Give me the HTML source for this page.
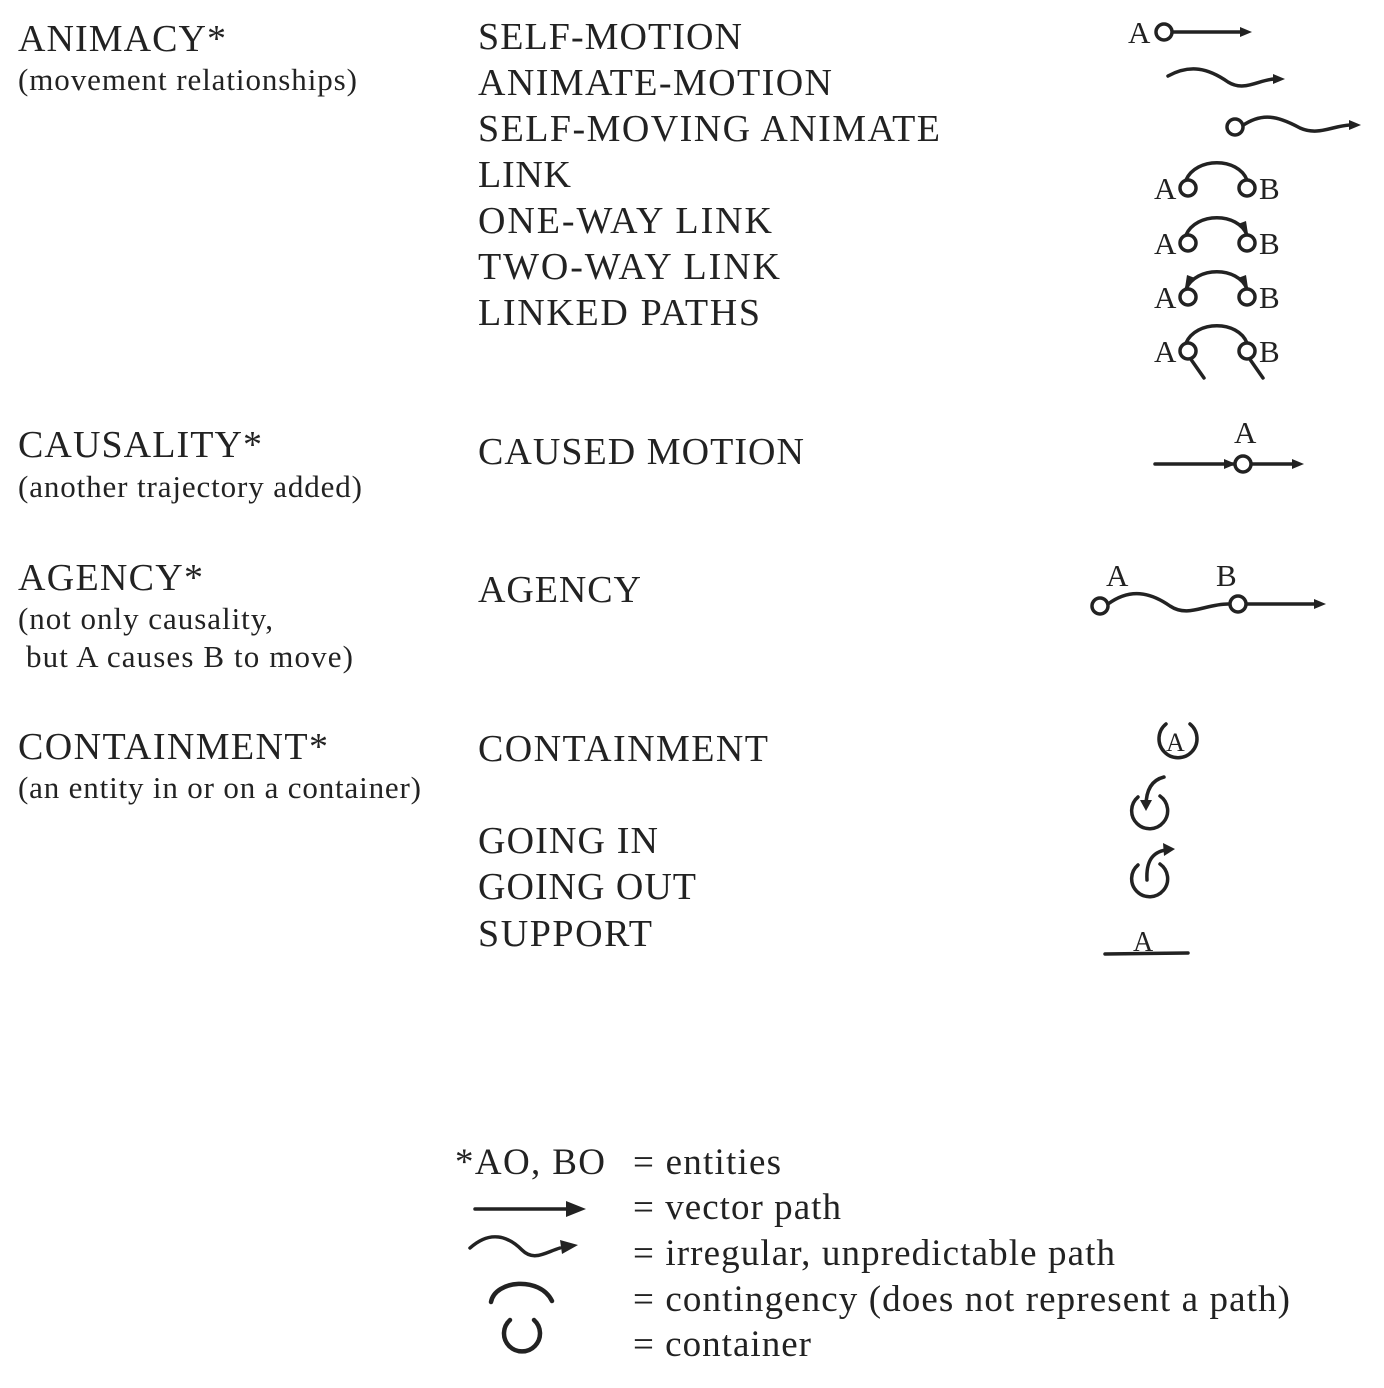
<!DOCTYPE html>
<html><head><meta charset="utf-8"><style>
html,body{margin:0;padding:0;background:#fff}
svg{display:block}
text{font-family:"Liberation Serif",serif;fill:#222}
.h{font-size:38px}.s{font-size:31px}.r{font-size:38px}.l{font-size:37px}.i{font-size:31px}
.p{fill:none;stroke:#222;stroke-width:3.5;stroke-linecap:round}
.c{fill:#fff;stroke:#222;stroke-width:3.5}
.a{fill:#222}
</style></head><body>
<svg width="1384" height="1388" viewBox="0 0 1384 1388">
<g>
<text class="h" x="18" y="51" textLength="208">ANIMACY*</text>
<text class="s" x="18" y="90" textLength="339">(movement relationships)</text>
<text class="h" x="18" y="457" textLength="244">CAUSALITY*</text>
<text class="s" x="18" y="497" textLength="344">(another trajectory added)</text>
<text class="h" x="18" y="590" textLength="185">AGENCY*</text>
<text class="s" x="18" y="629" textLength="255">(not only causality,</text>
<text class="s" x="26" y="667" textLength="327">but A causes B to move)</text>
<text class="h" x="18" y="759" textLength="310">CONTAINMENT*</text>
<text class="s" x="18" y="798" textLength="403">(an entity in or on a container)</text>
</g>
<g>
<text class="r" x="478" y="49" textLength="264">SELF-MOTION</text>
<text class="r" x="478" y="95" textLength="354">ANIMATE-MOTION</text>
<text class="r" x="478" y="141" textLength="462">SELF-MOVING ANIMATE</text>
<text class="r" x="478" y="187" textLength="93">LINK</text>
<text class="r" x="478" y="233" textLength="294">ONE-WAY LINK</text>
<text class="r" x="478" y="279" textLength="302">TWO-WAY LINK</text>
<text class="r" x="478" y="325" textLength="282">LINKED PATHS</text>
<text class="r" x="478" y="464" textLength="326">CAUSED MOTION</text>
<text class="r" x="478" y="602" textLength="163">AGENCY</text>
<text class="r" x="478" y="761" textLength="290">CONTAINMENT</text>
<text class="r" x="478" y="853" textLength="180">GOING IN</text>
<text class="r" x="478" y="899" textLength="218">GOING OUT</text>
<text class="r" x="478" y="946" textLength="174">SUPPORT</text>
</g>
<g>
<g>
<text class="i" x="1128" y="43">A</text>
<line class="p" x1="1172" y1="32" x2="1242" y2="32"/><polygon class="a" points="1252,32 1240,27 1240,37"/>
<circle class="c" cx="1164" cy="32" r="8"/></g>
<g>
<path class="p" d="M1168,76 C1190,64 1208,68 1228,82 C1244,92 1258,80 1274,79"/><polygon class="a" points="1285,79 1273,74 1273,84"/></g>
<g>
<path class="p" d="M1242,126 C1262,112 1278,116 1300,128 C1318,136 1332,126 1350,125"/><polygon class="a" points="1361,125 1349,120 1349,130"/>
<circle class="c" cx="1235" cy="127" r="8"/></g>
<g>
<text class="i" x="1154" y="199">A</text><text class="i" x="1259" y="199">B</text>
<path class="p" d="M1186,180 C1196,157 1238,157 1247,180"/>
<circle class="c" cx="1188" cy="188" r="8"/><circle class="c" cx="1247" cy="188" r="8"/></g>
<g>
<text class="i" x="1154" y="254">A</text><text class="i" x="1259" y="254">B</text>
<path class="p" d="M1186,235 C1196,212 1238,212 1247,235"/><polygon class="a" points="1248,234 1238,224 1246,221"/>
<circle class="c" cx="1188" cy="243" r="8"/><circle class="c" cx="1247" cy="243" r="8"/></g>
<g>
<text class="i" x="1154" y="308">A</text><text class="i" x="1259" y="308">B</text>
<path class="p" d="M1186,289 C1196,266 1238,266 1247,289"/><polygon class="a" points="1248,288 1238,278 1246,275"/><polygon class="a" points="1185,288 1195,278 1187,275"/>
<circle class="c" cx="1188" cy="297" r="8"/><circle class="c" cx="1247" cy="297" r="8"/></g>
<g>
<text class="i" x="1154" y="362">A</text><text class="i" x="1259" y="362">B</text>
<path class="p" d="M1186,343 C1196,320 1238,320 1247,343"/>
<path class="p" d="M1190,358 L1204,378 M1249,358 L1263,378"/>
<circle class="c" cx="1188" cy="351" r="8"/><circle class="c" cx="1247" cy="351" r="8"/></g>
<g>
<text class="i" x="1234" y="443">A</text>
<line class="p" x1="1155" y1="464" x2="1292" y2="464"/><polygon class="a" points="1236,464 1224,459 1224,469"/><polygon class="a" points="1304,464 1292,459 1292,469"/>
<circle class="c" cx="1243" cy="464" r="8"/></g>
<g>
<text class="i" x="1106" y="586">A</text><text class="i" x="1216" y="586">B</text>
<path class="p" d="M1108,604 C1130,588 1150,592 1170,606 C1188,618 1205,604 1228,604"/>
<line class="p" x1="1246" y1="604" x2="1316" y2="604"/><polygon class="a" points="1326,604 1314,599 1314,609"/>
<circle class="c" cx="1100" cy="606" r="8"/><circle class="c" cx="1238" cy="604" r="8"/></g>
<g>
<path class="p" d="M1166,724 A19,19 0 1,0 1190,724"/><text x="1166" y="751" style="font-size:26px">A</text></g>
<g>
<path class="p" d="M1138,797 A18,18 0 1,0 1160,796"/><path class="p" d="M1164,777 C1152,780 1146,790 1146,806"/><polygon class="a" points="1146,811 1140,800 1152,800"/></g>
<g>
<path class="p" d="M1138,865 A18,18 0 1,0 1160,864"/><path class="p" d="M1147,880 C1146,862 1152,852 1166,850"/><polygon class="a" points="1175,849 1163,843 1164,856"/></g>
<g>
<line class="p" x1="1105" y1="954" x2="1188" y2="953"/><text x="1133" y="951" style="font-size:28px">A</text></g>
</g>
<g>
<text class="l" x="455" y="1174" textLength="150">*AO, BO</text>
<text class="l" x="633" y="1174" textLength="148">= entities</text>
<g><line class="p" x1="475" y1="1209" x2="568" y2="1209"/><polygon class="a" points="586,1209 566,1201 566,1217"/></g>
<text class="l" x="633" y="1219" textLength="208">= vector path</text>
<g><path class="p" d="M470,1248 C490,1230 508,1236 522,1250 C534,1262 546,1252 560,1248"/><polygon class="a" points="578,1245 560,1240 562,1254"/></g>
<text class="l" x="633" y="1265" textLength="482">= irregular, unpredictable path</text>
<g><path class="p" d="M491,1302 C495,1280 540,1276 552,1301" style="stroke-width:4.5"/></g>
<text class="l" x="633" y="1311" textLength="657">= contingency (does not represent a path)</text>
<g><path class="p" d="M510,1320 A18,18 0 1,0 534,1320" style="stroke-width:4.5"/></g>
<text class="l" x="633" y="1356" textLength="178">= container</text>
</g>
</svg>
</body></html>
